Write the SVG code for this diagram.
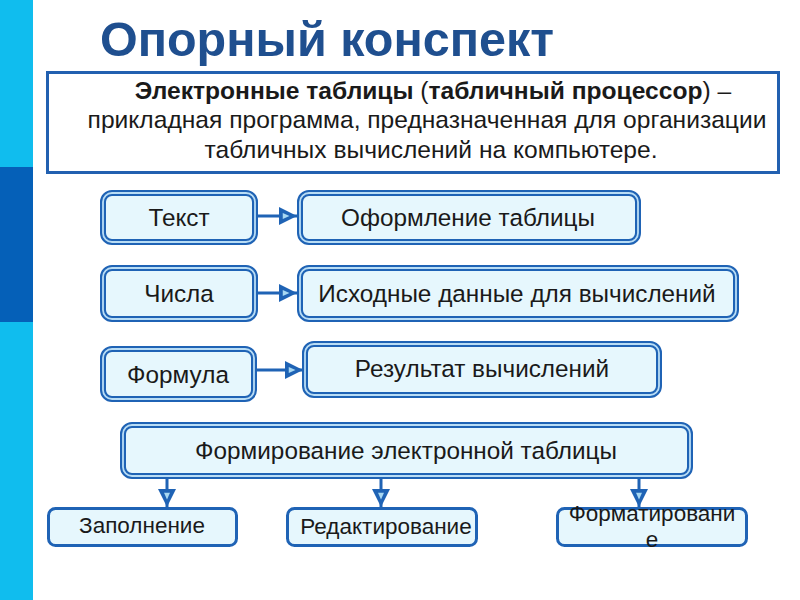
<svg xmlns="http://www.w3.org/2000/svg" width="800" height="600" viewBox="0 0 800 600">
<style>
.t{font-family:"Liberation Sans",Arial,sans-serif;fill:#1a1a1a;text-anchor:middle}
.n{font-size:24.3px}
.b{font-size:22.5px}
.dbl-o{fill:#E6F7FD;stroke:#1F63B5;stroke-width:6}
.dbl-m{fill:none;stroke:#B9DDF5;stroke-width:1.8}
.sgl{fill:#E6F7FD;stroke:#1F63B5;stroke-width:3}
.c{stroke:#1F63B5;stroke-width:3;fill:none}
</style>
<defs>
<marker id="ah" viewBox="0 0 12 12" refX="12" refY="6" markerWidth="6" markerHeight="6" markerUnits="strokeWidth" orient="auto">
<path d="M0,0 L12,6 L0,12 Z" fill="#1F63B5"/>
<path d="M2.5,4 L7,6 L2.5,8 Z" fill="#A8D8F2"/>
</marker>
</defs>
<rect width="800" height="600" fill="#ffffff"/>
<g id="sidebar">
<rect x="0" y="0" width="33" height="600" fill="#10BDEE"/>
<rect x="0" y="167" width="33" height="155" fill="#0560B8"/>
</g>
<text x="327" y="56" font-family="'Liberation Sans',Arial,sans-serif" font-weight="bold" font-size="48.5" fill="#1F4F8F" text-anchor="middle">Опорный конспект</text>
<g id="definition">
<rect x="47.5" y="72.5" width="731" height="100" fill="#ffffff" stroke="#2260B0" stroke-width="3"/>
<text class="t" font-size="24.6" x="433" y="99"><tspan font-weight="bold">Электронные таблицы</tspan> (<tspan font-weight="bold">табличный процессор</tspan>) –</text>
<text class="t" font-size="24.6" x="427" y="128">прикладная программа, предназначенная для организации</text>
<text class="t" font-size="24.6" x="431" y="158">табличных вычислений на компьютере.</text>
</g>
<g id="connectors">
<path class="c" d="M257,216 H297" marker-end="url(#ah)"/>
<path class="c" d="M257,293 H297" marker-end="url(#ah)"/>
<path class="c" d="M256,370 H303" marker-end="url(#ah)"/>
<path class="c" d="M167,478 V507" marker-end="url(#ah)"/>
<path class="c" d="M381,478 V507" marker-end="url(#ah)"/>
<path class="c" d="M639,478 V507" marker-end="url(#ah)"/>
</g>
<g id="node-text">
<rect class="dbl-o" x="103" y="193" width="152" height="49" rx="9"/>
<rect class="dbl-m" x="103" y="193" width="152" height="49" rx="9"/>
<text class="t n" x="179" y="226">Текст</text>
</g>
<g id="node-design">
<rect class="dbl-o" x="300" y="193" width="338" height="49" rx="9"/>
<rect class="dbl-m" x="300" y="193" width="338" height="49" rx="9"/>
<text class="t n" x="468" y="226">Оформление таблицы</text>
</g>
<g id="node-numbers">
<rect class="dbl-o" x="103" y="268" width="152" height="51" rx="9"/>
<rect class="dbl-m" x="103" y="268" width="152" height="51" rx="9"/>
<text class="t n" x="179" y="302">Числа</text>
</g>
<g id="node-source">
<rect class="dbl-o" x="300" y="268" width="436" height="51" rx="9"/>
<rect class="dbl-m" x="300" y="268" width="436" height="51" rx="9"/>
<text class="t n" x="517" y="302">Исходные данные для вычислений</text>
</g>
<g id="node-formula">
<rect class="dbl-o" x="103" y="349" width="151" height="50" rx="9"/>
<rect class="dbl-m" x="103" y="349" width="151" height="50" rx="9"/>
<text class="t n" x="178" y="383">Формула</text>
</g>
<g id="node-result">
<rect class="dbl-o" x="305" y="344" width="354" height="51" rx="9"/>
<rect class="dbl-m" x="305" y="344" width="354" height="51" rx="9"/>
<text class="t n" x="482" y="377">Результат вычислений</text>
</g>
<g id="node-forming">
<rect class="dbl-o" x="123" y="425" width="567" height="51" rx="9"/>
<rect class="dbl-m" x="123" y="425" width="567" height="51" rx="9"/>
<text class="t n" x="406" y="459">Формирование электронной таблицы</text>
</g>
<g id="node-fill">
<rect class="sgl" x="48.5" y="508.5" width="188" height="37" rx="7"/>
<text class="t b" x="142" y="533">Заполнение</text>
</g>
<g id="node-edit">
<rect class="sgl" x="287.5" y="508.5" width="189" height="37" rx="7"/>
<text class="t b" x="386" y="534">Редактирование</text>
</g>
<g id="node-format">
<rect class="sgl" x="557.5" y="508.5" width="189" height="37" rx="7"/>
<text class="t b" x="652" y="521">Форматировани</text>
<text class="t b" x="652" y="547">е</text>
</g>
</svg>
